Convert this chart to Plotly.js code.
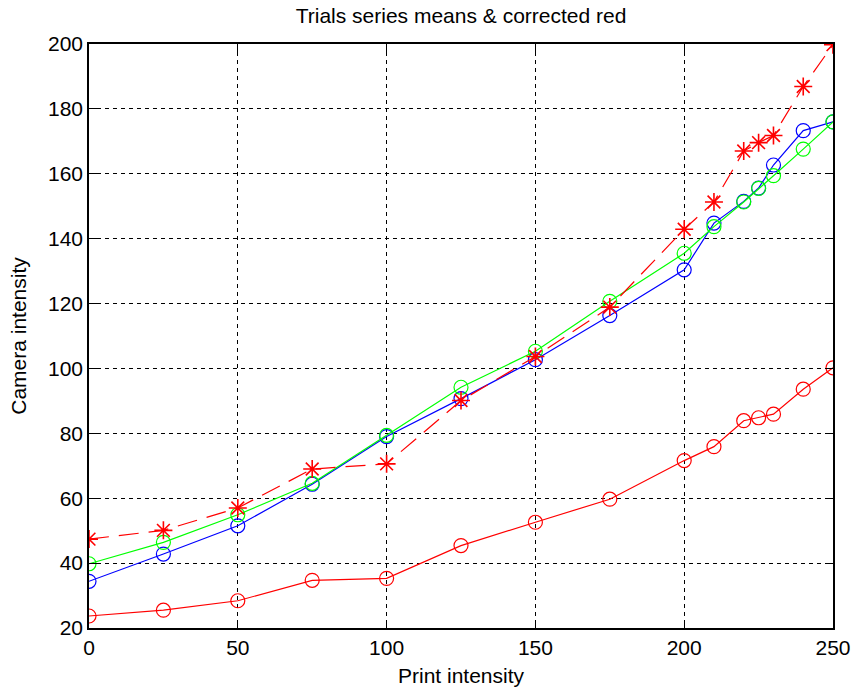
<!DOCTYPE html>
<html>
<head>
<meta charset="utf-8">
<script src="https://cdn.plot.ly/plotly-3.0.1.min.js"></script>
<style>html,body{margin:0;padding:0;background:#fff;}#plot{width:853px;height:689px;}</style>
</head>
<body>
<div id="plot"></div>
<script>
var printIntensity = [0, 25, 50, 75, 100, 125, 150, 175, 200, 210, 220, 225, 230, 240, 250];
var redMeans = [23.7, 25.5, 28.4, 34.7, 35.3, 45.4, 52.6, 59.7, 71.6, 75.9, 83.9, 84.8, 85.9, 93.6, 100.2];
var greenMeans = [39.8, 46.4, 54.9, 64.6, 79.4, 94.2, 105.3, 120.7, 135.5, 143.7, 151.3, 155.5, 159.4, 167.6, 176.0];
var blueMeans = [34.4, 42.8, 51.5, 64.3, 79.0, 90.7, 102.7, 116.3, 130.4, 144.8, 151.5, 155.6, 162.7, 173.3, 176.0];
var correctedRed = [47.4, 50.1, 57.0, 69.0, 70.6, 90.1, 103.7, 118.9, 142.9, 151.3, 167.0, 169.6, 171.8, 186.9, 199.8];
var xTicks = [0, 50, 100, 150, 200, 250];
var yTicks = [20, 40, 60, 80, 100, 120, 140, 160, 180, 200];

var font = 'Arial, "Liberation Sans", sans-serif';

function circleTrace(y, color) {
  return {
    x: printIntensity, y: y, type: 'scatter', mode: 'lines+markers',
    line: {color: color, width: 1.2},
    marker: {symbol: 'circle-open', size: 14, color: color, line: {color: color, width: 1.2}},
    showlegend: false, hoverinfo: 'x+y'
  };
}

var traces = [
  circleTrace(redMeans, '#ff0000'),
  circleTrace(blueMeans, '#0000ff'),
  circleTrace(greenMeans, '#00ff00'),
  {
    x: printIntensity, y: correctedRed, type: 'scatter', mode: 'lines+markers',
    line: {color: '#ff0000', width: 1.2, dash: '20px,10px'},
    marker: {symbol: 'asterisk-open', size: 15, color: '#ff0000', line: {color: '#ff0000', width: 1.6}},
    showlegend: false
  }
];

var axisCommon = {
  showline: true, linecolor: '#000', linewidth: 1.8, mirror: 'ticks',
  ticks: 'inside', ticklen: 8, tickcolor: '#000', tickwidth: 1,
  showgrid: true, gridcolor: '#000', gridwidth: 1.2, griddash: '4px,4px',
  zeroline: false, tickfont: {family: font, size: 21, color: '#000'}
};

var layout = {
  width: 853, height: 689,
  margin: {l: 89, r: 20, t: 44, b: 61, pad: 0},
  paper_bgcolor: '#fff', plot_bgcolor: '#fff',
  title: {text: 'Trials series means & corrected red', font: {family: font, size: 21, color: '#000'},
          x: 0.5405, xanchor: 'center', y: 0.977, yanchor: 'middle'},
  xaxis: Object.assign({}, axisCommon, {
    range: [0, 250], tickvals: xTicks, ticktext: xTicks.map(String),
    title: {text: 'Print intensity', font: {family: font, size: 21, color: '#000'}, standoff: 10}
  }),
  yaxis: Object.assign({}, axisCommon, {
    range: [20, 200], tickvals: yTicks, ticktext: yTicks.map(String),
    title: {text: 'Camera intensity', font: {family: font, size: 21, color: '#000'}, standoff: 16}
  })
};

Plotly.newPlot('plot', traces, layout, {displayModeBar: false, staticPlot: true});
</script>
</body>
</html>
